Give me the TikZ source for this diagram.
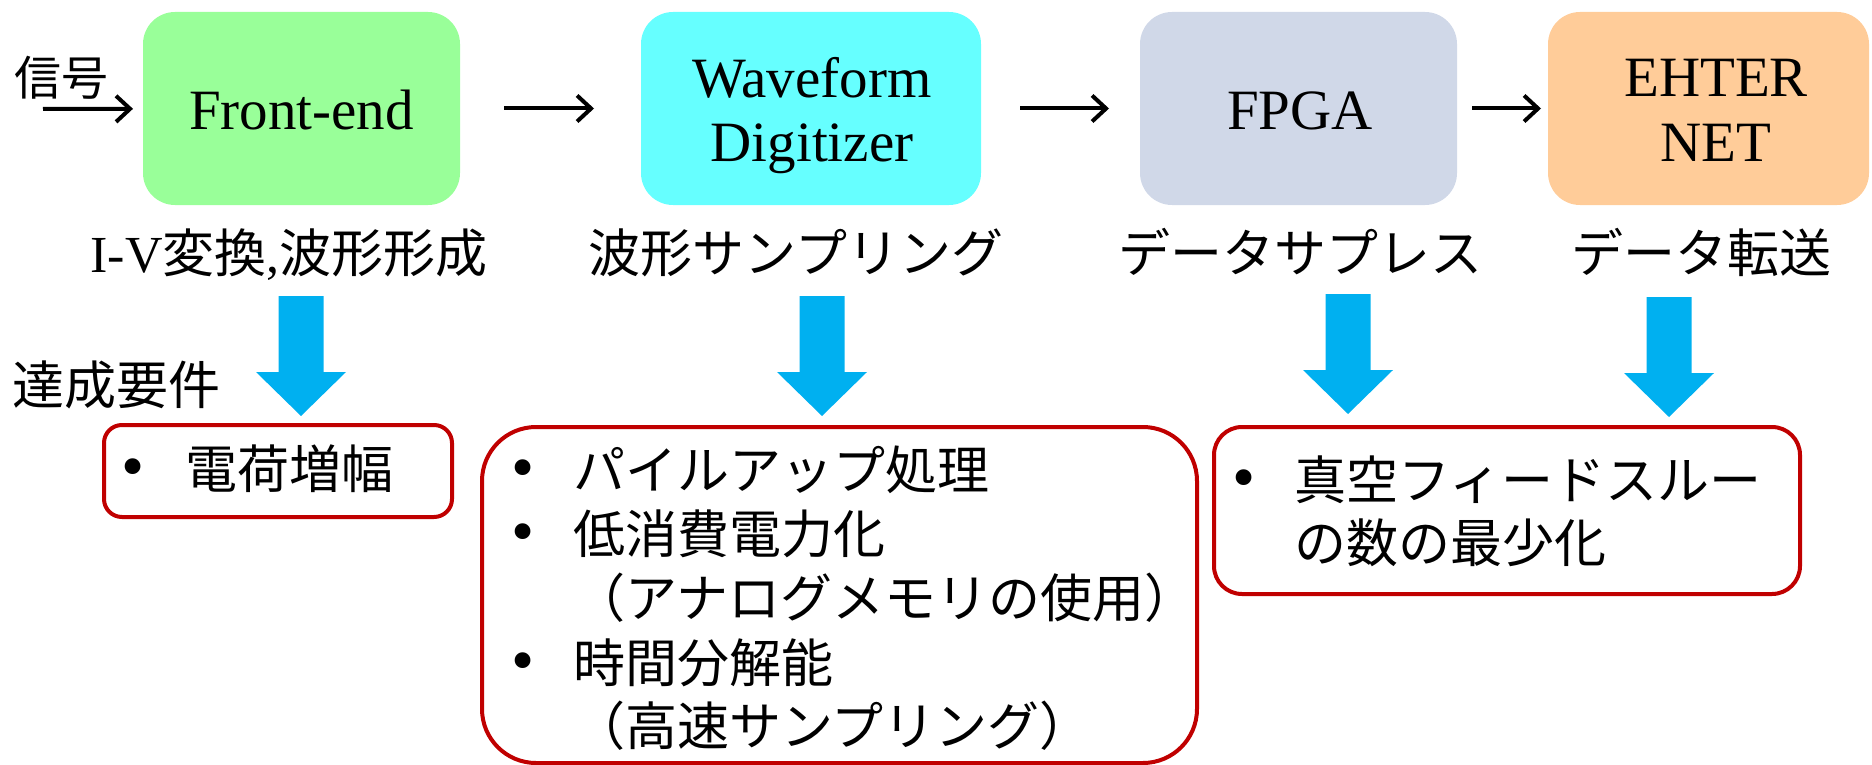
\documentclass[tikz,border=0pt]{standalone}
\usepackage{fontspec}
\setmainfont{Liberation Serif}
\newfontfamily\jp{Noto Sans CJK JP}
\usetikzlibrary{arrows.meta}
\definecolor{cgreen}{HTML}{99FF99}
\definecolor{ccyan}{HTML}{66FFFF}
\definecolor{cgray}{HTML}{D0D8E8}
\definecolor{corange}{HTML}{FFCC99}
\definecolor{cblue}{HTML}{00B0F0}
\definecolor{cred}{HTML}{C00000}
\tikzset{
  topbox/.style={rectangle, rounded corners=32pt, minimum height=193pt, inner sep=0pt, outer sep=0pt},
  reqbox/.style={rectangle, draw=cred, line width=4pt, inner sep=0pt, outer sep=0pt},
  jptxt/.style={inner sep=0pt, font=\fontsize{52}{64}\selectfont\jp},
  latxt/.style={inner sep=0pt, anchor=base, font=\fontsize{57}{64}\selectfont},
  bul/.style={inner sep=0pt, anchor=base west, font=\fontsize{66}{64}\selectfont},
  flow/.style={line width=4pt, -{Straight Barb[length=14pt,width=26pt]}},
  downarrow/.pic={\fill[cblue] (-22.5,0) -- (22.5,0) -- (22.5,76) -- (45,76) -- (0,120) -- (-45,76) -- (-22.5,76) -- cycle;}
}
\begin{document}
\begin{tikzpicture}[x=1pt,y=-1pt]
\useasboundingbox (0,0) rectangle (1872,765);
% top boxes
\node[topbox, fill=cgreen, minimum width=317pt] (fe) at (301.5,108.5) {};
\node[topbox, fill=ccyan, minimum width=340pt] (wd) at (811,108.5) {};
\node[topbox, fill=cgray, minimum width=317pt] (fpga) at (1298.5,108.5) {};
\node[topbox, fill=corange, minimum width=321pt] (eth) at (1708.5,108.5) {};
\node[latxt] (fe-t) at (301.5,130) {Front-end};
\node[latxt] (wd-t1) at (812,98) {Waveform};
\node[latxt] (wd-t2) at (812,162) {Digitizer};
\node[latxt] (fpga-t) at (1300,130) {FPGA};
\node[latxt] (eth-t1) at (1716,97) {EHTER};
\node[latxt] (eth-t2) at (1716,162) {NET};
% input signal
\coordinate (sig) at (43,109);
\node[inner sep=0pt, anchor=base, font=\fontsize{47}{50}\selectfont\jp] (sig-t) at (61,96) {信号};
\draw[flow, shorten >=10pt] (sig) -- (fe);
\draw[flow, shorten <=44pt, shorten >=47pt] (fe) -- (wd);
\draw[flow, shorten <=39pt, shorten >=31pt] (wd) -- (fpga);
\draw[flow, shorten <=15pt, shorten >=7pt] (fpga) -- (eth);
% function labels
\node[jptxt, anchor=base, font=\fontsize{52}{64}\selectfont] (l1) at (289,272) {I-V{\jp 変換},{\jp 波形形成}};
\node[jptxt, anchor=base] (l2) at (796,272) {波形サンプリング};
\node[jptxt, anchor=base] (l3) at (1300,272) {データサプレス};
\node[jptxt, anchor=base] (l4) at (1701,272) {データ転送};
\node[jptxt, anchor=base west] (req) at (12,404) {達成要件};
% blue arrows
\pic at (301,296) {downarrow};
\pic at (822,296) {downarrow};
\pic at (1348,294) {downarrow};
\pic at (1669,297) {downarrow};
% requirement boxes
\node[reqbox, rounded corners=18pt, minimum width=348pt, minimum height=92pt] (r1) at (278,471) {};
\node[reqbox, rounded corners=54pt, minimum width=715pt, minimum height=336pt] (r2) at (839.5,595) {};
\node[reqbox, rounded corners=28pt, minimum width=586pt, minimum height=167pt] (r3) at (1507,510.5) {};
% box 1 text
\node[bul] (b1) at (121,488) {•};
\node[jptxt, anchor=base west] (t1) at (185,488) {電荷増幅};
% box 2 text
\node[bul] (b2a) at (511,489) {•};
\node[jptxt, anchor=base west] (t2a) at (573,489) {パイルアップ処理};
\node[bul] (b2b) at (511,553) {•};
\node[jptxt, anchor=base west] (t2b) at (573,553) {低消費電力化};
\node[jptxt, anchor=base west] (t2c) at (573,617) {（アナログメモリの使用）};
\node[bul] (b2d) at (511,682) {•};
\node[jptxt, anchor=base west] (t2d) at (573,682) {時間分解能};
\node[jptxt, anchor=base west] (t2e) at (573,745) {（高速サンプリング）};
% box 3 text
\node[bul] (b3) at (1232,499) {•};
\node[jptxt, anchor=base west] (t3a) at (1294,499) {真空フィードスルー};
\node[jptxt, anchor=base west] (t3b) at (1294,562) {の数の最少化};
\end{tikzpicture}
\end{document}
